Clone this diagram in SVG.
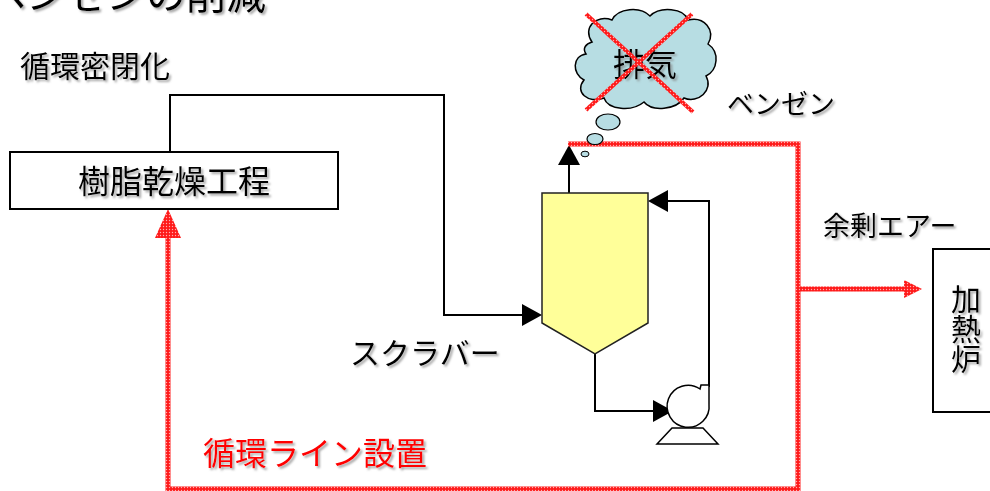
<svg xmlns="http://www.w3.org/2000/svg" width="990" height="491" viewBox="0 0 990 491">
  <defs>
    <style>
      .t { font-family: "Noto Sans CJK JP", "Liberation Sans", sans-serif; fill: #000; filter: url(#shadow); }
      .red { fill: #FF0000; }
      .ln { fill: none; stroke: #000; stroke-width: 2; }
      .rl { fill: none; stroke: url(#redDots); stroke-width: 5; }
    </style>
    <filter id="shadow" x="-10%" y="-20%" width="130%" height="160%">
      <feDropShadow dx="2" dy="2" stdDeviation="0.8" flood-color="#808080" flood-opacity="0.7"/>
    </filter>
    <pattern id="redDots" width="3" height="3" patternUnits="userSpaceOnUse">
      <rect width="3" height="3" fill="#FF1A1A"/>
      <circle cx="1.5" cy="1.5" r="0.7" fill="#FFB0B0"/>
    </pattern>
  </defs>
  <rect width="990" height="491" fill="#fff"/>

  <!-- heading (partly above the top edge) -->
  <text class="t" x="-14" y="9" font-size="40">ベンゼンの削減</text>

  <text class="t" x="20" y="77" font-size="30">循環密閉化</text>

  <!-- connectors -->
  <g id="connectors">
    <!-- drying process to scrubber -->
    <polyline class="ln" points="170,152 170,95 444,95 444,315 524,315"/>
    <polygon points="522,304 542,315 522,326" fill="#000"/>
    <!-- scrubber vent -->
    <line class="ln" x1="569" y1="193" x2="569" y2="164"/>
    <polygon points="558,165 569,145 580,165" fill="#000"/>
    <!-- recirculation loop -->
    <polyline class="ln" points="709,387 709,201 666,201"/>
    <polygon points="668,190 648,201 668,212" fill="#000"/>
    <polyline class="ln" points="595,354 595,411 655,411"/>
    <polygon points="653,400 673,411 653,422" fill="#000"/>

    <!-- added recirculation line -->
    <polyline class="rl" points="568,144 798,144 798,489 168,489 168,236"/>
    <polygon points="155,238 168,209 181,238" fill="url(#redDots)"/>
    <line class="rl" x1="798" y1="289" x2="906" y2="289"/>
    <polygon points="904,280 922,289 904,298" fill="url(#redDots)"/>
  </g>

  <!-- resin drying process -->
  <g id="dryer">
    <rect x="10" y="152" width="328" height="57" fill="#fff" stroke="#000" stroke-width="2"/>
    <text class="t" x="174" y="193" font-size="32" text-anchor="middle">樹脂乾燥工程</text>
  </g>

  <!-- scrubber vessel -->
  <g id="scrubber">
    <path d="M542,193 L648,193 L648,323 L595,354 L542,323 Z" fill="#FFFF99" stroke="#222" stroke-width="1.5"/>
    <text class="t" x="350" y="364" font-size="30">スクラバー</text>
  </g>

  <!-- circulation pump -->
  <g id="pump" fill="#fff" stroke="#000" stroke-width="1.5">
    <path d="M672,428 L703,428 L718,444 L657,444 Z"/>
    <path d="M700,389 A21,21 0 1 0 709,404 L709,385 L701,385 Z"/>
  </g>

  <!-- exhaust cloud (struck out) -->
  <g id="exhaust">
    <path d="M592,42 C582,28 596,14 612,20 C618,8 640,6 650,16 C660,6 684,8 688,20 C704,16 716,30 708,44 C720,52 718,70 706,76 C714,90 698,104 684,98 C676,110 652,112 644,102 C632,112 608,110 604,98 C588,104 574,92 584,80 C572,74 572,56 586,54 C582,48 586,44 592,42 Z" fill="#B7DDE3" stroke="#000" stroke-width="1.5"/>
    <ellipse cx="608" cy="122" rx="12" ry="8" fill="#B7DDE3" stroke="#000" stroke-width="1.2"/>
    <ellipse cx="595" cy="139" rx="8" ry="5.5" fill="#B7DDE3" stroke="#000" stroke-width="1.2"/>
    <ellipse cx="585" cy="154" rx="4" ry="2.8" fill="#B7DDE3" stroke="#000" stroke-width="1"/>
    <text class="t" x="645" y="76" font-size="32" text-anchor="middle">排気</text>
    <line x1="586" y1="14" x2="693" y2="112" stroke="url(#redDots)" stroke-width="4"/>
    <line x1="692" y1="14" x2="586" y2="110" stroke="url(#redDots)" stroke-width="4"/>
  </g>

  <text class="t" x="727" y="114" font-size="27">ベンゼン</text>
  <text class="t" x="823" y="236" font-size="27">余剰エアー</text>

  <!-- heating furnace, label set vertically -->
  <g id="furnace">
    <rect x="933" y="249" width="70" height="163" fill="#fff" stroke="#000" stroke-width="2"/>
    <text class="t" x="966" y="284" font-size="30" writing-mode="vertical-rl" text-orientation="upright">加熱炉</text>
  </g>

  <text class="t red" x="203" y="465" font-size="32">循環ライン設置</text>
</svg>
